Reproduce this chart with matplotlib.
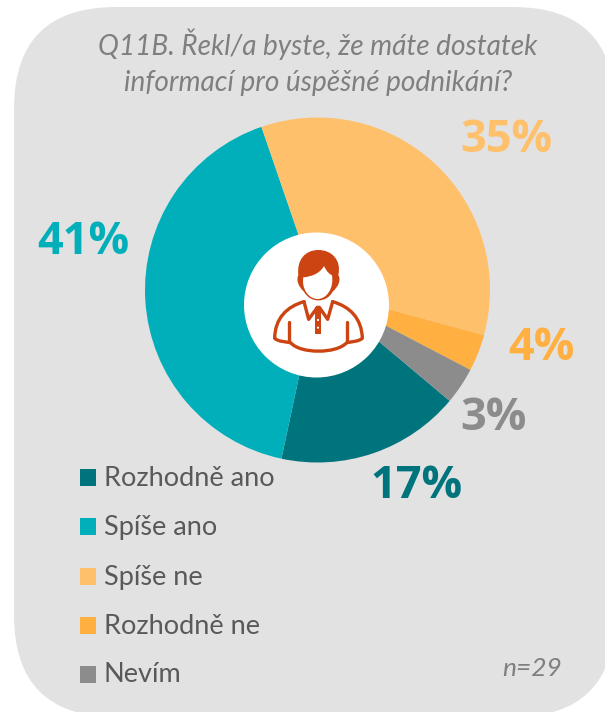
import matplotlib
matplotlib.use('Agg')
import matplotlib.pyplot as plt
from matplotlib.patches import FancyBboxPatch, Circle, PathPatch, Rectangle
from matplotlib.path import Path

# answers out of n=29, clockwise from "Rozhodně ano"
categories = ['Rozhodně ano', 'Spíše ano', 'Spíše ne', 'Rozhodně ne', 'Nevím']
counts = [5, 12, 10, 1, 1]
pct_labels = ['17%', '41%', '35%', '4%', '3%']
colors = ['#00747C', '#00AFB9', '#FFC06C', '#FFB040', '#8C8C8C']

title = 'Q11B. Řekl/a byste, že máte dostatek\ninformací pro úspěšné podnikání?'
note = 'n=29'

W, H = 605, 712
plt.rcParams['font.family'] = ['Lato', 'DejaVu Sans']

fig = plt.figure(figsize=(W / 100, H / 100), dpi=100)
ax = fig.add_axes([0, 0, 1, 1])
ax.set_xlim(0, W)
ax.set_ylim(0, H)
ax.axis('off')


def Y(py):
    return H - py


# grey panel, runs off the right and bottom edges
r = 102
ax.add_patch(FancyBboxPatch((14 + r, Y(717) + r), 601 - 2 * r, 710 - 2 * r,
                            boxstyle='round,pad=%d,rounding_size=%d' % (r, r),
                            fc='#E2E2E2', ec='none', zorder=1))

ax.text(318, Y(62), title, ha='center', va='center', fontsize=20.2, style='italic',
        color='#7F7F7F', linespacing=1.5, zorder=3)

ax.pie(counts, colors=colors, startangle=-40, counterclock=False, center=(317.5, Y(290)),
       radius=172.5, frame=True, wedgeprops={'linewidth': 0, 'zorder': 2})
ax.set_xlim(0, W)
ax.set_ylim(0, H)
ax.set_aspect('auto')
ax.axis('off')

# white disc sits a bit below the pie centre
ax.add_patch(Circle((316.5, Y(305)), 72.5, fc='white', ec='none', zorder=3))


def Z(x, y):
    return (230 + x / 3, Y(230 + y / 3))


def shape(segments, **kw):
    verts, codes = [], []
    for code, pts in segments:
        for p in pts:
            verts.append(Z(*p))
            codes.append(code)
    ax.add_patch(PathPatch(Path(verts, codes), zorder=4, **kw))


M, L, C = Path.MOVETO, Path.LINETO, Path.CURVE4
icon = '#CC4411'

# hair
shape([(M, [(222, 185)]),
       (C, [(205, 170), (198, 150), (205, 135)]),
       (C, [(200, 90), (225, 60), (265, 60)]),
       (C, [(305, 60), (335, 90), (325, 135)]),
       (C, [(334, 150), (325, 170), (308, 185)]),
       (C, [(290, 220), (240, 220), (222, 185)])], fc=icon, ec='none')
# face
shape([(M, [(220, 142)]),
       (C, [(245, 140), (270, 130), (282, 108)]),
       (C, [(290, 125), (298, 132), (306, 136)]),
       (C, [(312, 175), (290, 207), (263, 207)]),
       (C, [(235, 207), (214, 175), (220, 142)])], fc='white', ec='none')
# shoulders and collar
stroke = dict(fc='none', ec=icon, lw=2.4, capstyle='round', joinstyle='round')
shape([(M, [(222, 215)]),
       (C, [(170, 230), (135, 265), (134, 325)]),
       (C, [(145, 335), (165, 335), (182, 338)]),
       (C, [(210, 372), (320, 372), (350, 338)]),
       (C, [(365, 335), (385, 335), (397, 325)]),
       (C, [(395, 265), (360, 230), (308, 215)])], **stroke)
shape([(M, [(222, 215)]), (L, [(236, 268), (262, 232), (268, 232), (293, 268), (308, 215)])], **stroke)
shape([(M, [(178, 276)]), (L, [(178, 335)])], **stroke)
shape([(M, [(352, 276)]), (L, [(352, 335)])], **stroke)
ax.add_patch(Rectangle(Z(256, 312), 16 / 3, 80 / 3, fc=icon, ec='none', zorder=4))
ax.add_patch(Circle(Z(264, 270), 1.1, fc='white', ec='none', zorder=5))
ax.add_patch(Circle(Z(264, 293), 1.1, fc='white', ec='none', zorder=5))

# percent labels
label_pos = [(416, 487), (83, 242), (506, 140), (541, 348), (493, 419)]
for (px, py), txt, c in zip(label_pos, pct_labels, colors):
    ax.text(px, Y(py), txt, ha='center', va='center', fontsize=32.5, fontweight='bold',
            family='Open Sans', color=c, zorder=5)

# legend
legend_y = [478, 527, 577, 626, 675]
for py, cat, c in zip(legend_y, categories, colors):
    ax.add_patch(Rectangle((80, Y(py + 8)), 16, 17, fc=c, ec='none', zorder=3))
    ax.text(104, Y(py), cat, ha='left', va='center', fontsize=19.5, color='#595959', zorder=3)

ax.text(532, Y(668), note, ha='center', va='center', fontsize=19, style='italic', color='#7F7F7F', zorder=3)

fig.savefig('out.png', dpi=100)
